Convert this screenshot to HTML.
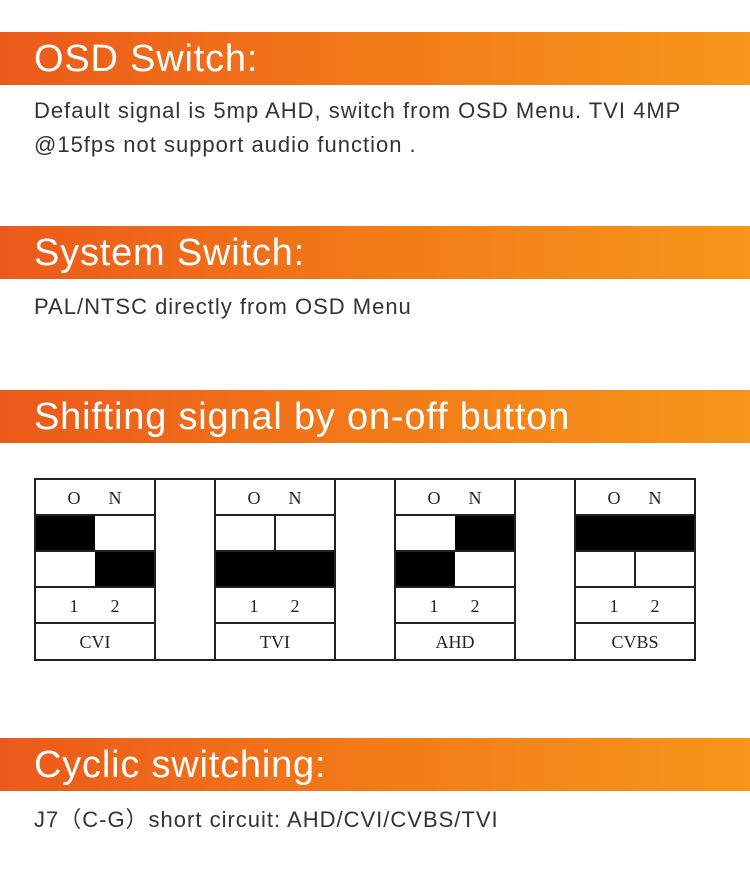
<!DOCTYPE html>
<html><head><meta charset="utf-8"><style>
body{margin:0;width:750px;height:896px;background:#fff;position:relative;overflow:hidden;font-family:"Liberation Sans",Arial,sans-serif}
.b{position:absolute;left:0;width:750px;height:53px;background:linear-gradient(90deg,#eb5a1b 0%,#f27a18 50%,#f7961b 100%)}
.b span{position:absolute;left:34px;top:5px;color:#fff;font-size:38px;line-height:44px;letter-spacing:0.8px;white-space:nowrap}
.t{position:absolute;left:34px;color:#333;font-size:22px;line-height:34px;letter-spacing:1px;white-space:nowrap}
svg{position:absolute;left:0;top:0}
</style></head><body>
<div class="b" style="top:32px"><span>OSD Switch:</span></div>
<div class="t" style="top:94px">Default signal is 5mp AHD, switch from OSD Menu. TVI 4MP<br>@15fps not support audio function .</div>
<div class="b" style="top:226px"><span>System Switch:</span></div>
<div class="t" style="top:290px">PAL/NTSC directly from OSD Menu</div>
<div class="b" style="top:390px"><span>Shifting signal by on-off button</span></div>
<div class="b" style="top:738px"><span>Cyclic switching:</span></div>
<div class="t" style="top:803px">J7（C-G）short circuit: AHD/CVI/CVBS/TVI</div>
<svg width="750" height="896" font-family="'Liberation Serif',serif" font-size="18" fill="#222">
<g fill="#000">
<rect x="35" y="515" width="60" height="36"/><rect x="95" y="551" width="60" height="36"/>
<rect x="215" y="551" width="120" height="36"/>
<rect x="455" y="515" width="60" height="36"/><rect x="395" y="551" width="60" height="36"/>
<rect x="575" y="515" width="120" height="36"/>
</g>
<g stroke="#222" stroke-width="2" fill="none">
<rect x="35" y="479" width="660" height="181"/>
<line x1="155" y1="479" x2="155" y2="660"/><line x1="215" y1="479" x2="215" y2="660"/>
<line x1="335" y1="479" x2="335" y2="660"/><line x1="395" y1="479" x2="395" y2="660"/>
<line x1="515" y1="479" x2="515" y2="660"/><line x1="575" y1="479" x2="575" y2="660"/>
<path d="M35 515H155M35 551H155M35 587H155M35 623H155M215 515H335M215 551H335M215 587H335M215 623H335M395 515H515M395 551H515M395 587H515M395 623H515M575 515H695M575 551H695M575 587H695M575 623H695"/>
<line x1="275" y1="515" x2="275" y2="551"/><line x1="635" y1="551" x2="635" y2="587"/>
</g>
<g text-anchor="middle">
<text x="74" y="504">O</text><text x="115" y="504">N</text><text x="74" y="612">1</text><text x="115" y="612">2</text><text x="95" y="648">CVI</text>
<text x="254" y="504">O</text><text x="295" y="504">N</text><text x="254" y="612">1</text><text x="295" y="612">2</text><text x="275" y="648">TVI</text>
<text x="434" y="504">O</text><text x="475" y="504">N</text><text x="434" y="612">1</text><text x="475" y="612">2</text><text x="455" y="648">AHD</text>
<text x="614" y="504">O</text><text x="655" y="504">N</text><text x="614" y="612">1</text><text x="655" y="612">2</text><text x="635" y="648">CVBS</text>
</g>
</svg>
</body></html>
